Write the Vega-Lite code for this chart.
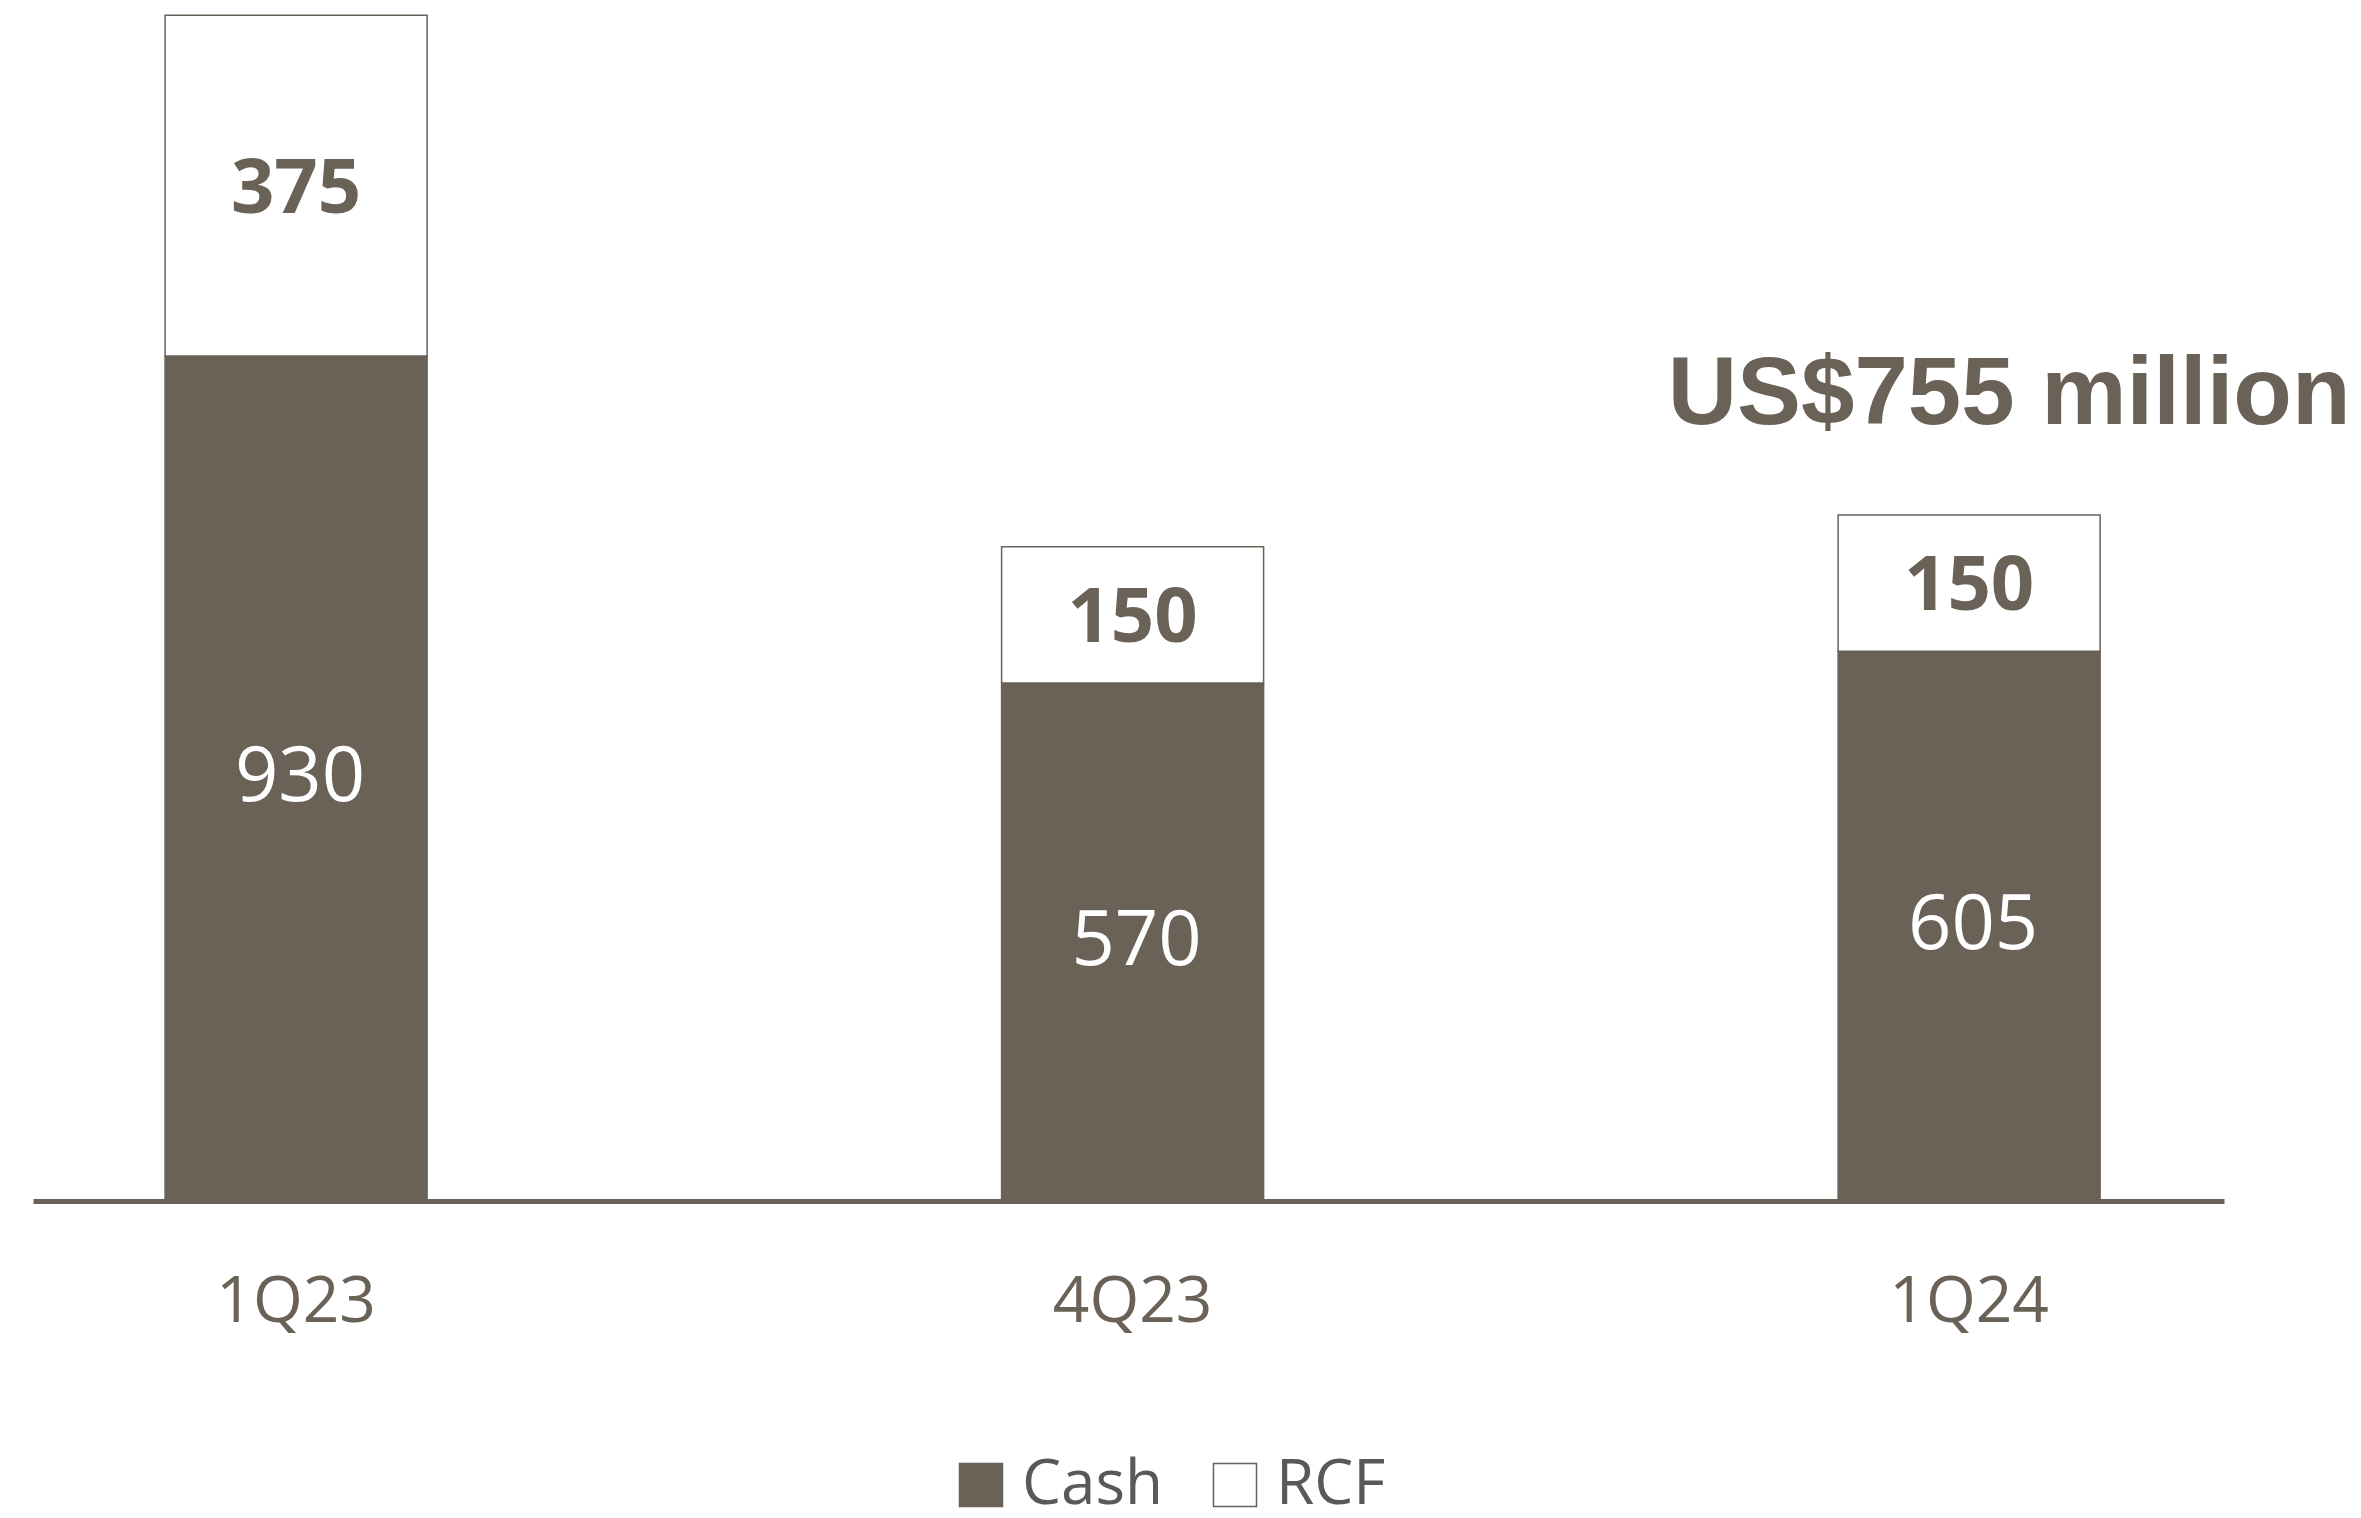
{
  "$schema": "https://vega.github.io/schema/vega-lite/v6.json",
  "width": 2191,
  "height": 1200,
  "autosize": {"type": "none"},
  "padding": {"left": 33, "top": 1, "right": 137, "bottom": 317},
  "background": "white",
  "config": {"view": {"stroke": null}, "font": "Open Sans", "axisX": {"domainWidth": 5, "domainColor": "#6a6157"}},
  "data": {"values": [
    {"period": "1Q23", "type": "Cash", "value": 930},
    {"period": "1Q23", "type": "RCF", "value": 375},
    {"period": "4Q23", "type": "Cash", "value": 570},
    {"period": "4Q23", "type": "RCF", "value": 150},
    {"period": "1Q24", "type": "Cash", "value": 605},
    {"period": "1Q24", "type": "RCF", "value": 150}
  ]},
  "encoding": {
    "x": {
      "field": "period", "type": "nominal", "sort": ["1Q23", "4Q23", "1Q24"],
      "scale": {"paddingInner": 0.6868, "paddingOuter": 0.153, "align": 0.516},
      "axis": {"title": null, "domainColor": "#6a6157", "domainWidth": 5, "ticks": false, "tickSize": 0,
               "labelPadding": 69, "labelFont": "Open Sans", "labelFontSize": 64, "labelColor": "#6a6157", "labelAngle": 0}
    }
  },
  "layer": [
    {
      "transform": [
        {"stack": "value", "groupby": ["period"], "sort": [{"field": "type", "order": "ascending"}], "as": ["v0", "v1"]}
      ],
      "mark": {"type": "bar", "stroke": "#6a6157", "strokeWidth": 1.5},
      "encoding": {
        "y": {"field": "v0", "type": "quantitative", "scale": {"domain": [0, 1320.7], "nice": false, "zero": true}, "axis": null},
        "y2": {"field": "v1"},
        "color": {
          "field": "type", "type": "nominal",
          "scale": {"domain": ["Cash", "RCF"], "range": ["#6a6157", "#ffffff"]},
          "legend": {"title": null, "orient": "none", "legendX": 917, "legendY": 1453, "direction": "horizontal",
                     "symbolType": "square", "symbolSize": 1849, "symbolStrokeColor": "#6a6157", "symbolStrokeWidth": 1.5,
                     "symbolOpacity": 1, "labelFont": "Open Sans", "labelFontSize": 62, "labelColor": "#595959",
                     "labelOffset": 10, "columnPadding": 40, "padding": 0, "labelLimit": 400}
        }
      }
    },
    {
      "transform": [
        {"stack": "value", "groupby": ["period"], "sort": [{"field": "type", "order": "ascending"}], "as": ["v0", "v1"]},
        {"calculate": "(datum.v0 + datum.v1) / 2", "as": "mid"},
        {"filter": "datum.type === 'Cash'"}
      ],
      "mark": {"type": "text", "font": "Open Sans", "fontSize": 76, "color": "#ffffff", "baseline": "middle", "dx": 4},
      "encoding": {
        "y": {"field": "mid", "type": "quantitative", "axis": null},
        "text": {"field": "value", "type": "quantitative"}
      }
    },
    {
      "transform": [
        {"stack": "value", "groupby": ["period"], "sort": [{"field": "type", "order": "ascending"}], "as": ["v0", "v1"]},
        {"calculate": "(datum.v0 + datum.v1) / 2", "as": "mid"},
        {"filter": "datum.type === 'RCF'"}
      ],
      "mark": {"type": "text", "font": "Open Sans", "fontSize": 76, "fontWeight": "bold", "color": "#6a6157", "baseline": "middle", "dy": 4},
      "encoding": {
        "y": {"field": "mid", "type": "quantitative", "axis": null},
        "text": {"field": "value", "type": "quantitative"}
      }
    },
    {
      "data": {"values": [{"period": "1Q24", "total": 755, "label": "US$755 million"}]},
      "mark": {"type": "text", "font": "Liberation Sans", "fontSize": 96, "fontWeight": "bold", "color": "#6a6157",
               "baseline": "alphabetic", "align": "center", "dx": 40, "dy": -91},
      "encoding": {
        "y": {"field": "total", "type": "quantitative", "axis": null},
        "text": {"field": "label", "type": "nominal"}
      }
    }
  ]
}
